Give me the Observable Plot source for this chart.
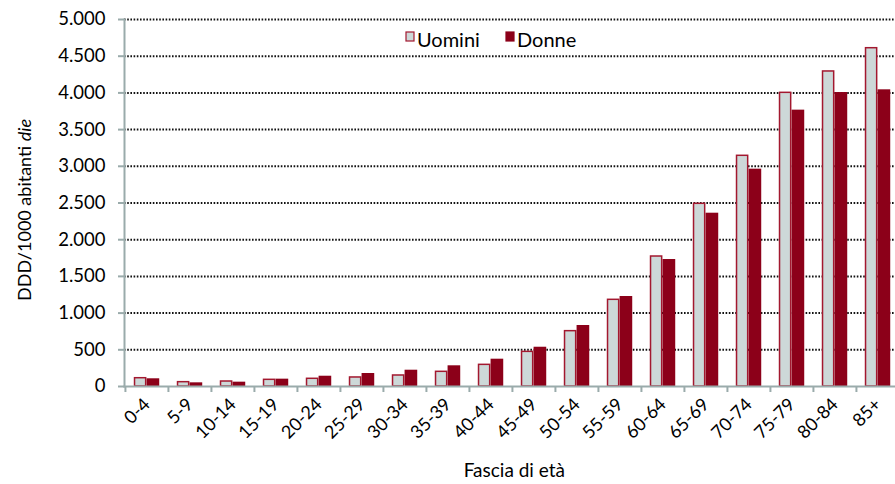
<!DOCTYPE html>
<html>
<head>
<meta charset="utf-8">
<script src="https://cdn.jsdelivr.net/npm/d3@7"></script>
<script src="https://cdn.jsdelivr.net/npm/@observablehq/plot@0.6"></script>
<style>
  html, body { margin: 0; padding: 0; background: #fff; }
  #chart svg { display: block; }
</style>
</head>
<body>
<div id="chart"></div>
<script>
const ageGroups = ["0-4","5-9","10-14","15-19","20-24","25-29","30-34","35-39","40-44","45-49","50-54","55-59","60-64","65-69","70-74","75-79","80-84","85+"];
const uomini = [113, 59, 68, 91, 105, 123, 150, 200, 295, 472, 754, 1181, 1771, 2489, 3143, 4001, 4292, 4609];
const donne  = [105, 50, 59, 100, 140, 177, 222, 282, 372, 535, 831, 1226, 1730, 2361, 2961, 3765, 4005, 4042];
const seriesNames = ["Uomini", "Donne"];
const yTicks = [0, 500, 1000, 1500, 2000, 2500, 3000, 3500, 4000, 4500, 5000];
const yLabel = "DDD/1000 abitanti";
const yLabelItalic = "die";
const xLabel = "Fascia di età";

const colors = { Uomini: "#cdd8d8", Donne: "#8c0019" };
const strokeU = "#a3182f";
const axisColor = "#9aabab";
const textColor = "#000";

const data = ageGroups.flatMap((g, i) => [
  { age: g, sex: seriesNames[0], value: uomini[i] },
  { age: g, sex: seriesNames[1], value: donne[i] }
]);

const itLocale = d3.formatLocale({ decimal: ",", thousands: ".", grouping: [3], currency: ["€", ""] });
const fmt = itLocale.format(",");

const W = 895, H = 484;
const xRange = [124, 900.7];
const step = (xRange[1] - xRange[0]) / ageGroups.length;
const barW = 12.8;
const innerInset = step / 2;
const outerInset = step / 2 - barW;

const chart = Plot.plot({
  width: W,
  height: H,
  marginTop: 19,
  marginBottom: 98,
  marginLeft: 124,
  marginRight: 0,
  style: { fontFamily: "Lato, sans-serif", background: "#fff", overflow: "hidden" },
  x: { domain: ageGroups, range: xRange, padding: 0, label: null },
  y: { domain: [0, 5000], range: [386, 19], label: null },
  marks: [
    Plot.gridY(yTicks.filter(d => d > 0), {
      stroke: "#111", strokeOpacity: 1, strokeWidth: 2, strokeDasharray: "1.6,1.6"
    }),
    Plot.barY(data.filter(d => d.sex === seriesNames[0]), {
      x: "age", y: "value", fill: colors.Uomini, stroke: strokeU, strokeWidth: 1.5,
      insetLeft: outerInset + 0.75, insetRight: innerInset + 0.75
    }),
    Plot.barY(data.filter(d => d.sex === seriesNames[1]), {
      x: "age", y: "value", fill: colors.Donne,
      insetLeft: innerInset, insetRight: outerInset
    }),
    Plot.axisY({
      ticks: yTicks, tickFormat: fmt, tickSize: 6, tickPadding: 13,
      fontSize: 18.5, stroke: axisColor, strokeWidth: 2, label: null, fill: textColor
    }),
    Plot.axisX({
      tickSize: 6, tickFormat: () => "", dx: -step / 2, stroke: axisColor, strokeWidth: 2, label: null
    }),
    Plot.axisX({
      tickSize: 0, tickPadding: 15, tickRotate: -45, fontSize: 18, label: null, fill: textColor
    }),
    Plot.frame({ anchor: "left", stroke: axisColor, strokeWidth: 2 }),
    Plot.frame({ anchor: "bottom", stroke: axisColor, strokeWidth: 2 })
  ]
});

document.getElementById("chart").appendChild(chart);

const svg = d3.select(chart);
// y-axis title with italic part
const yt = svg.append("text")
  .attr("transform", "translate(31,210) rotate(-90)")
  .attr("text-anchor", "middle")
  .attr("font-family", "Lato, sans-serif")
  .attr("font-size", 18)
  .attr("fill", textColor);
yt.append("tspan").text(yLabel + " ");
yt.append("tspan").attr("font-style", "italic").text(yLabelItalic);

// x-axis title
svg.append("text")
  .attr("x", (xRange[0] + xRange[1]) / 2 + 2)
  .attr("y", 477)
  .attr("text-anchor", "middle")
  .attr("font-family", "Lato, sans-serif")
  .attr("font-size", 19)
  .attr("fill", textColor)
  .text(xLabel);

// legend
const legendItems = [
  { name: seriesNames[0], x: 406, fill: colors.Uomini, stroke: strokeU },
  { name: seriesNames[1], x: 506, fill: colors.Donne, stroke: colors.Donne }
];
const lg = svg.append("g").attr("font-family", "Lato, sans-serif").attr("font-size", 20)
  .attr("fill", textColor).attr("text-anchor", "start");
legendItems.forEach(it => {
  lg.append("rect").attr("x", it.x).attr("y", 32).attr("width", 8).attr("height", 9)
    .attr("fill", it.fill).attr("stroke", it.stroke).attr("stroke-width", 1.2);
  lg.append("text").attr("x", it.x + 11).attr("y", 47).attr("text-anchor", "start").text(it.name);
});
</script>
</body>
</html>
